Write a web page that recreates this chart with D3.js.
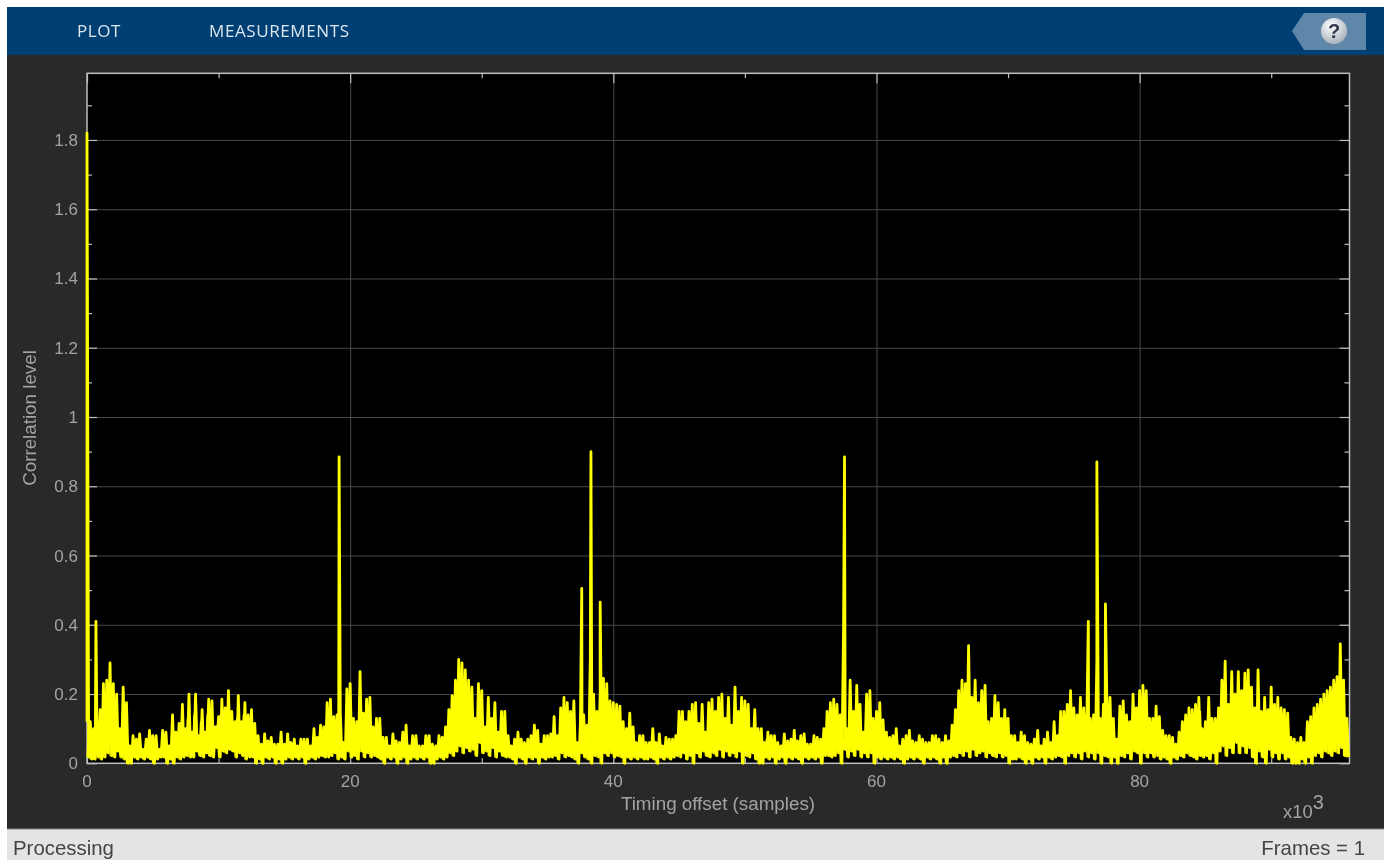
<!DOCTYPE html>
<html><head><meta charset="utf-8">
<script src="https://cdn.jsdelivr.net/npm/d3@7"></script>
<style>html,body{margin:0;padding:0;background:#fff;overflow:hidden}svg{display:block;filter:blur(.5px)}</style>
</head><body><svg id="c" width="1384" height="860"></svg>
<script>
const xTicks=[0,20,40,60,80], xMinor=[10,30,50,70,90];
const yTicks=[0,.2,.4,.6,.8,1,1.2,1.4,1.6,1.8], yMinor=[.1,.3,.5,.7,.9,1.1,1.3,1.5,1.7,1.9];
const xLabel="Timing offset (samples)", yLabel="Correlation level";
const tabs=["PLOT","MEASUREMENTS"];
const sampleStep=.25;
const spikeOffsets=[0,.68,19.16,37.6,38.3,39,57.57,76.1,76.75,77.4];
const spikeLevels=[1.82,.41,.885,.505,.9,.465,.885,.41,.87,.46];
const upperEnvelope=[
.12,.12,.10,.12,.155,.23,.24,.29,.23,.20,
.10,.22,.175,.05,.08,.07,.085,.04,.07,.095,
.08,.08,.04,.095,.09,.05,.14,.09,.115,.17,
.10,.20,.09,.20,.08,.155,.09,.185,.18,.105,
.135,.185,.16,.21,.15,.12,.195,.12,.175,.14,
.155,.115,.08,.055,.085,.065,.075,.055,
.055,.09,.055,.085,.06,.07,.05,.07,.07,.07,
.05,.10,.075,.11,.105,.175,.185,.135,.14,.15,
.06,.215,.23,.13,.12,.265,.145,.185,.19,.105,
.13,.13,.075,.075,.05,.085,.065,.06,.09,.11,
.05,.08,.08,.05,.05,.08,.08,.055,.05,.08,
.075,.105,.155,.195,.24,.30,
.29,.27,.24,.22,.13,.23,.21,.105,.19,.13,
.175,.09,.15,.15,.08,.05,.07,.09,.07,.06,
.07,.08,.11,.095,.055,.08,.08,.085,.135,.08,
.16,.19,.175,.15,.18,.06,.12,.14,.11,.30,
.20,.15,.20,.245,.23,.18,.175,.17,.165,.12,
.10,.145,.105,.06,.08,.08,
.06,.06,.10,.06,.085,.05,.075,.07,.07,.08,
.15,.15,.12,.15,.17,.175,.115,.17,.09,.175,
.185,.15,.19,.20,.13,.19,.11,.22,.15,.19,
.18,.17,.10,.155,.10,.10,.06,.09,.08,.08,
.06,.05,.085,.065,.07,.095,.065,.08,.085,.055,
.055,.08,.075,.07,.10,.15,
.175,.185,.17,.14,.40,.10,.24,.15,.225,.17,
.09,.20,.21,.13,.15,.175,.125,.09,.075,.08,
.10,.05,.07,.08,.095,.065,.06,.08,.07,.06,
.06,.08,.08,.07,.06,.08,.065,.11,.155,.21,
.24,.23,.34,.19,.24,.175,.21,.225,.12,.13,
.195,.175,.13,.155,.13,.08,
.08,.06,.09,.08,.06,.055,.07,.095,.05,.07,
.09,.06,.12,.08,.15,.15,.17,.21,.16,.14,
.19,.16,.15,.13,.14,.30,.13,.17,.20,.19,
.13,.07,.165,.18,.14,.12,.20,.16,.21,.225,
.21,.13,.13,.165,.135,.095,.08,.08,.075,.055,
.09,.12,.14,.16,.155,.17,.19,
.10,.12,.19,.13,.13,.16,.24,.295,.17,.265,
.20,.265,.21,.26,.27,.22,.16,.27,.15,.19,
.155,.22,.17,.19,.16,.155,.145,.075,.07,.06,
.075,.06,.12,.135,.16,.17,.185,.20,.21,.22,
.24,.25,.345,.24,.13];
const lowerEnvelope=[
.018,.012,.012,.018,.012,.018,.03,.022,.018,.035,
.018,.012,0,0,.018,.012,.018,.012,.018,.012,
0,.012,.018,.018,0,.012,0,.018,.012,.018,
.022,.018,.018,.035,.022,.018,.03,.022,.018,.045,
.018,.035,.03,.04,.035,.018,.03,.022,.012,.018,
.018,0,.012,0,.018,.012,.018,0,
.012,0,.012,.018,.012,.018,.012,.018,0,.012,
.018,.012,.018,.022,.018,.018,.022,.03,.012,.018,
.012,.035,.018,.022,.012,.035,.018,.03,.018,.022,
.018,.012,0,.018,.012,.018,0,.012,.018,0,
.012,.018,.012,.018,.012,.018,0,0,.012,.018,
.012,.018,.03,.022,.035,.05,
.03,.045,.035,.04,.022,.06,.03,.035,.022,.045,
.018,.035,.022,.018,.018,.012,0,.018,.012,0,
.018,.012,.018,0,.018,.012,.018,.018,.022,.012,
.03,.018,.022,.018,.012,0,.03,.018,.012,0,
.022,.018,0,.03,.022,.03,.018,.022,.018,0,
.018,.012,.018,.012,.018,.012,
.012,.018,.012,0,.018,.012,.018,.012,.018,.022,
.018,.03,.012,.022,0,.03,.018,.035,.022,.018,
.03,.022,.04,.018,.035,.022,.03,.018,.035,0,
.022,.018,.03,.012,0,0,.018,.012,.018,0,
.012,.018,0,.018,.012,.018,.012,0,.018,.012,
.018,.012,.018,0,.022,.022,
.018,.022,.03,0,.04,.018,.035,.022,.04,.018,
.03,.018,.03,0,.018,.012,.018,.012,.018,.012,
.018,.012,0,.012,.018,.012,.018,.012,0,.018,
.012,.018,.012,0,.018,0,.018,.022,.018,.03,
.022,.035,.018,.04,.022,.03,.035,.018,.03,.022,
.018,.03,.018,.022,0,.012,
.012,.018,.012,0,.012,0,.018,.012,.018,0,
.018,.012,.018,.022,.018,0,.022,.03,.018,.03,
.012,.035,.018,.03,.012,.03,0,.022,.018,0,
.018,0,.022,.018,.03,.012,.035,.03,0,.03,
.018,.03,.018,.022,.012,.018,.012,0,.018,.012,
.022,.018,.03,.022,.018,.012,.022,
.018,.022,.012,.03,0,.035,.05,.022,.045,.03,
.06,.03,.05,.03,.045,.018,0,.035,.018,0,
.04,.018,.03,.012,.03,.012,.018,0,0,0,
.012,0,.018,0,.022,.03,.018,.035,.03,.022,
.035,.03,.045,.022,.018];
const bodyLevel=[
.10,.09,.09,.10,.14,.20,.23,.20,.18,.08,
.09,.16,.05,.05,.06,.06,.04,.04,.06,.07,
.07,.04,.04,.07,.05,.05,.08,.08,.11,.09,
.13,.08,.14,.07,.12,.08,.14,.15,.09,.11,
.14,.14,.15,.13,.11,.13,.11,.14,.12,.12,
.10,.07,.05,.05,.06,.06,.05,.05,
.05,.05,.05,.05,.05,.04,.05,.06,.06,.04,
.05,.07,.07,.09,.10,.15,.13,.11,.12,.05,
.05,.17,.11,.10,.11,.13,.13,.15,.09,.10,
.11,.07,.06,.04,.05,.05,.05,.06,.07,.04,
.05,.07,.04,.04,.05,.06,.05,.04,.05,.06,
.07,.09,.13,.16,.19,.22,
.22,.21,.18,.12,.12,.17,.10,.10,.12,.12,
.09,.09,.12,.07,.05,.05,.06,.06,.05,.05,
.06,.07,.08,.05,.05,.07,.07,.07,.08,.07,
.14,.15,.14,.13,.06,.06,.10,.10,.10,.17,
.14,.13,.16,.19,.17,.15,.14,.14,.11,.09,
.09,.09,.06,.05,.06,.06,
.05,.05,.05,.05,.05,.05,.06,.06,.06,.07,
.12,.11,.12,.14,.15,.10,.11,.08,.09,.15,
.13,.15,.16,.11,.13,.10,.10,.13,.15,.15,
.15,.09,.09,.09,.09,.05,.07,.07,.07,.05,
.04,.05,.05,.06,.06,.05,.06,.07,.05,.05,
.05,.06,.06,.07,.09,.13,
.15,.14,.12,.13,.09,.09,.13,.13,.15,.08,
.08,.16,.12,.11,.13,.11,.08,.06,.06,.07,
.05,.05,.06,.07,.06,.05,.05,.06,.05,.05,
.06,.07,.06,.05,.06,.05,.06,.10,.15,.18,
.20,.20,.17,.18,.16,.17,.18,.11,.11,.12,
.15,.12,.12,.12,.08,.06,
.05,.05,.06,.05,.05,.05,.06,.05,.05,.06,
.05,.06,.07,.08,.13,.14,.16,.14,.13,.13,
.14,.13,.12,.12,.13,.12,.12,.15,.17,.12,
.06,.07,.15,.13,.11,.10,.15,.16,.18,.20,
.12,.12,.13,.12,.09,.07,.07,.06,.05,.05,
.08,.11,.13,.14,.14,.15,.15,
.09,.11,.12,.11,.12,.14,.21,.16,.16,.18,
.18,.19,.20,.23,.20,.15,.15,.14,.14,.13,
.14,.15,.16,.14,.14,.13,.07,.06,.05,.05,
.05,.05,.10,.12,.14,.16,.17,.19,.20,.21,
.23,.24,.23,.12,.08];

const svg=d3.select("#c");
const box={l:87,r:1349.5,t:73.3,b:763.3};
const x=d3.scaleLinear().domain([0,95.95]).range([box.l,box.r]);
const y=d3.scaleLinear().domain([0,1.9925]).range([box.b,box.t]);
const F="'Liberation Sans',Arial,sans-serif";

// window chrome
svg.append("rect").attr("x",7).attr("y",7).attr("width",1377).attr("height",853).attr("fill","#292929");
svg.append("rect").attr("x",7).attr("y",7).attr("width",1377).attr("height",48).attr("fill","#003f73");
svg.append("rect").attr("x",7).attr("y",829).attr("width",1377).attr("height",31).attr("fill","#e4e4e4");
svg.append("line").attr("x1",7).attr("x2",1384).attr("y1",829).attr("y2",829).attr("stroke","#8a8a8a");
svg.selectAll("text.tab").data(tabs).join("text").attr("class","tab")
  .attr("x",(d,i)=>[77,209][i]).attr("y",37).attr("fill","#dbe6ef")
  .attr("font-family","'Open Sans',sans-serif").attr("font-size",17).attr("letter-spacing",.6).text(d=>d);
svg.append("path").attr("d","M1292 31L1304 13H1366V50H1304Z").attr("fill","#5f87aa");
const defs=svg.append("defs");
const g=defs.append("radialGradient").attr("id","h").attr("cx",".4").attr("cy",".3").attr("r",".8");
g.append("stop").attr("offset","0").attr("stop-color","#ffffff");
g.append("stop").attr("offset","1").attr("stop-color","#9fa8b4");
svg.append("circle").attr("cx",1334).attr("cy",31).attr("r",13).attr("fill","url(#h)");
svg.append("text").attr("x",1334).attr("y",38).attr("text-anchor","middle").attr("font-family",F)
  .attr("font-weight","bold").attr("font-size",20).attr("fill","#2f3b4c").text("?");
svg.append("text").attr("x",13).attr("y",855).attr("font-family",F).attr("font-size",20.4).attr("fill","#444").text("Processing");
svg.append("text").attr("x",1365).attr("y",855).attr("text-anchor","end").attr("font-family",F).attr("font-size",20.4).attr("fill","#444").text("Frames = 1");

// plot area
svg.append("rect").attr("x",box.l).attr("y",box.t).attr("width",box.r-box.l).attr("height",box.b-box.t).attr("fill","#000");
const W=box.r-box.l,H=box.b-box.t;
const strip=s=>s.call(a=>a.select(".domain").remove());
svg.append("g").attr("transform",`translate(0,${box.b})`)
  .call(d3.axisBottom(x).tickValues(xTicks.slice(1)).tickSize(-H).tickFormat("")).call(strip)
  .selectAll("line").attr("stroke","#484848");
svg.append("g").attr("transform",`translate(${box.l},0)`)
  .call(d3.axisLeft(y).tickValues(yTicks.slice(1)).tickSize(-W).tickFormat("")).call(strip)
  .selectAll("line").attr("stroke","#484848");

// ticks on four sides
function ticks(axis,pos,vals,len){
  const gg=svg.append("g").attr("transform",pos).call(axis.tickValues(vals).tickSize(len).tickFormat("")).call(strip);
  gg.selectAll("line").attr("stroke","#bdbdbd").attr("stroke-width",1.2);
}
ticks(d3.axisBottom(x),`translate(0,${box.b})`,xTicks,-10);
ticks(d3.axisBottom(x),`translate(0,${box.b})`,xMinor,-5);
ticks(d3.axisTop(x),`translate(0,${box.t})`,xTicks,-10);
ticks(d3.axisTop(x),`translate(0,${box.t})`,xMinor,-5);
ticks(d3.axisLeft(y),`translate(${box.l},0)`,yTicks,-10);
ticks(d3.axisLeft(y),`translate(${box.l},0)`,yMinor,-5);
ticks(d3.axisRight(y),`translate(${box.r},0)`,yTicks,-10);
ticks(d3.axisRight(y),`translate(${box.r},0)`,yMinor,-5);
svg.append("rect").attr("x",box.l).attr("y",box.t).attr("width",W).attr("height",H)
  .attr("fill","none").attr("stroke","#bdbdbd").attr("stroke-width",1.5);

// trace: dense oscillation, drawn as two interleaved passes
const trace=[], body=[];
upperEnvelope.forEach((v,i)=>{
  trace.push([i*sampleStep,v]);
  trace.push([(i+.5)*sampleStep,lowerEnvelope[i]]);
  body.push([i*sampleStep,lowerEnvelope[i]]);
  body.push([(i+.5)*sampleStep,bodyLevel[i]]);
});
spikeOffsets.forEach((o,i)=>trace.push([o,spikeLevels[i]]));
trace.sort((a,b)=>a[0]-b[0]);
const line=d3.line().x(d=>x(d[0])).y(d=>y(d[1]));
svg.append("path").attr("d",line(body)).attr("fill","none").attr("stroke","#ffff00")
  .attr("stroke-width",1.2).attr("stroke-linejoin","round");
svg.append("path").attr("d",line(trace)).attr("fill","none").attr("stroke","#ffff00")
  .attr("stroke-width",2.8).attr("stroke-linejoin","round");

// tick labels
const tf=d=>String(+d.toFixed(1));
svg.selectAll("text.xl").data(xTicks).join("text").attr("class","xl")
  .attr("x",d=>x(d)).attr("y",787).attr("text-anchor","middle").text(tf);
svg.selectAll("text.yl").data(yTicks).join("text").attr("class","yl")
  .attr("x",78).attr("y",d=>y(d)+6).attr("text-anchor","end").text(tf);
svg.selectAll("text.xl,text.yl").attr("font-family",F).attr("font-size",17).attr("fill","#a3a3a3");
svg.append("text").attr("x",718).attr("y",810).attr("text-anchor","middle").attr("font-family",F)
  .attr("font-size",18.8).attr("fill","#a3a3a3").text(xLabel);
svg.append("text").attr("transform","translate(36,418) rotate(-90)").attr("text-anchor","middle").attr("font-family",F)
  .attr("font-size",18.8).attr("fill","#a3a3a3").text(yLabel);
const sci=svg.append("text").attr("x",1283).attr("y",818).attr("font-family",F).attr("font-size",18.4).attr("fill","#a3a3a3");
sci.append("tspan").text("x10");
sci.append("tspan").attr("dy",-9).attr("font-size",20).text("3");
</script></body></html>
